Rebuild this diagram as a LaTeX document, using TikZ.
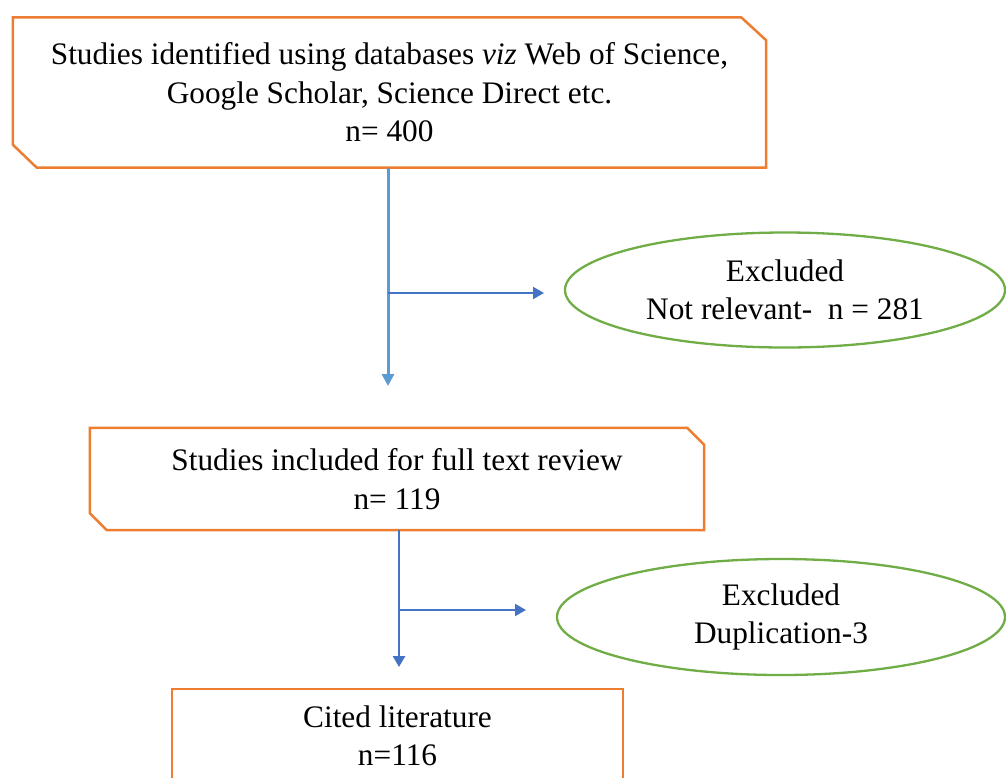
\documentclass[tikz,border=0pt]{standalone}
\usepackage{fontspec}
\setmainfont{Liberation Serif}
\usetikzlibrary{calc,arrows.meta,shapes.geometric}
\definecolor{borange}{HTML}{ED7D31}
\definecolor{bgreen}{HTML}{70AD47}
\definecolor{bblue}{HTML}{4472C4}
\definecolor{lblue}{HTML}{5B9BD5}
\begin{document}
\begin{tikzpicture}[x=1pt,y=-1pt,
  txt/.style={font=\fontsize{31.3}{38.5}\selectfont, align=center, inner sep=0pt},
  boxnode/.style={txt, rectangle},
  snip/.style={draw=borange, line width=2.5pt, line join=miter},
  excl/.style={txt, ellipse, draw=bgreen, line width=2.3pt},
  flow/.style={draw=bblue, line width=2.6pt, -{Triangle[length=11pt,width=12pt]}},
  flowlight/.style={draw=lblue, line width=3pt, -{Triangle[length=12pt,width=12pt]}},
  side/.style={draw=bblue, line width=2pt, -{Triangle[length=11pt,width=12pt]}}]
\useasboundingbox (0,0) rectangle (1006,777);
\clip (0,0) rectangle (1006,777);

% box 1
\node[boxnode, minimum width=753pt, minimum height=150pt] (b1) at (389.5,92.5)
  {Studies identified using databases \textit{viz} Web of Science,\\Google Scholar, Science Direct etc.\\n= 400};
\draw[snip] (b1.north west) -- ($(b1.north east)+(-25,0)$) -- ($(b1.north east)+(0,23)$)
  -- (b1.south east) -- ($(b1.south west)+(24,0)$) -- ($(b1.south west)+(0,-23)$) -- cycle;

% box 2
\node[boxnode, minimum width=614pt, minimum height=102pt] (b2) at (397,479)
  {Studies included for full text review\\n= 119};
\draw[snip] (b2.north west) -- ($(b2.north east)+(-17,0)$) -- ($(b2.north east)+(0,17)$)
  -- (b2.south east) -- ($(b2.south west)+(17,0)$) -- ($(b2.south west)+(0,-17)$) -- cycle;

% box 3
\node[boxnode, minimum width=451pt, minimum height=94pt] (b3) at (397.5,736)
  {Cited literature\\n=116};
\draw[snip] (b3.south west) -- (b3.north west) -- (b3.north east) -- (b3.south east) -- cycle;

% ellipses
\node[excl, minimum width=440pt, minimum height=115pt] (e1) at (785,290)
  {Excluded\\Not relevant-\ \ n = 281};
\node[excl, minimum width=448pt, minimum height=116pt] (e2) at (781,617)
  {Excluded\\Duplication-3};

% connectors
\coordinate (d1) at (388,386);
\coordinate (j1) at (388,293);
\coordinate (h1) at (544,293);
\draw[flowlight] (b1.south -| d1) -- (d1);
\draw[side] (j1) -- (h1);

\coordinate (d2) at (399,667);
\coordinate (j2) at (399,610);
\coordinate (h2) at (526,610);
\draw[flow] (b2.south -| d2) -- (d2);
\draw[side] (j2) -- (h2);
\end{tikzpicture}
\end{document}
